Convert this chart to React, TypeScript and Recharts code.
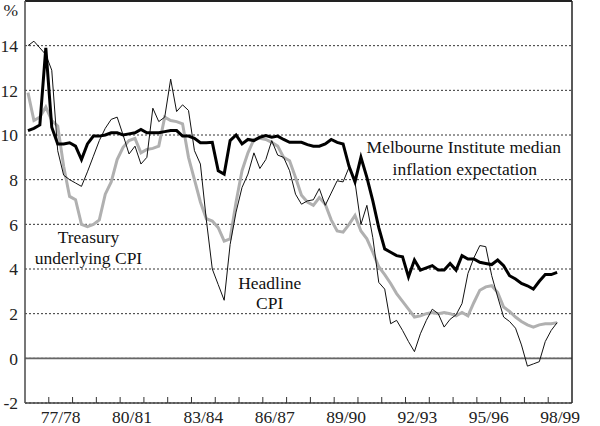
import { CartesianGrid, Line, LineChart, ReferenceDot, ReferenceLine, XAxis, YAxis } from 'recharts';

// quarterly, Sep-76 to Dec-98, year-ended % change
const headline = [
  14.0, 14.2, 13.9, 13.6, 12.9, 9.3, 8.2, 8.0, 7.85, 7.7,
  8.35, 9.05, 9.75, 10.3, 10.7, 10.8, 10.0, 9.15, 9.5, 8.7,
  9.0, 11.2, 10.6, 10.8, 12.5, 11.05, 11.35, 11.1, 9.3, 8.7,
  6.2, 4.0, 3.3, 2.6, 5.1, 6.55, 7.65, 8.25, 9.2, 8.5,
  8.9, 9.75, 9.1, 9.0, 8.4, 7.35, 6.9, 7.05, 7.1, 7.6,
  6.85, 7.4, 7.95, 7.9, 8.55, 7.9, 6.0, 6.85, 5.4, 3.4,
  3.1, 1.55, 1.7, 1.25, 0.75, 0.3, 1.1, 1.7, 2.2, 2.0,
  1.4, 1.75, 1.95, 2.45, 3.8, 4.5, 5.05, 5.0, 3.7, 2.75,
  1.85, 1.65, 1.35, 0.6, -0.35, -0.25, -0.15, 0.75, 1.25, 1.6,
];
const treasury = [
  11.9, 10.65, 10.8, 11.25, 10.65, 10.4, 8.6, 7.25, 7.1, 6.0,
  5.9, 6.0, 6.2, 7.35, 7.9, 8.9, 9.45, 9.75, 9.85, 9.2,
  9.35, 9.4, 9.5, 10.8, 10.65, 10.6, 10.5, 9.0, 8.0, 7.0,
  6.25, 6.15, 5.85, 5.25, 5.35, 7.0, 8.4, 9.2, 9.8, 9.85,
  9.8, 9.67, 9.5, 9.0, 8.85, 8.1, 7.3, 7.0, 6.85, 7.2,
  6.9, 6.2, 5.7, 5.65, 6.0, 6.4, 5.7, 5.35, 4.75, 4.1,
  3.75, 3.35, 2.9, 2.55, 2.2, 1.85, 1.9, 2.0, 2.05, 2.0,
  2.05, 2.0, 1.9, 2.05, 1.9, 2.5, 3.05, 3.2, 3.25, 2.95,
  2.3, 2.1, 1.85, 1.65, 1.5, 1.4, 1.5, 1.55, 1.55, 1.6,
];
const melbourne = [
  10.2, 10.3, 10.45, 13.9, 10.35, 9.6, 9.6, 9.65, 9.5, 8.9,
  9.6, 9.95, 9.95, 10.0, 10.1, 10.1, 10.0, 10.05, 10.1, 10.25,
  10.1, 10.1, 10.1, 10.15, 10.2, 10.2, 9.95, 9.95, 9.85, 9.65,
  9.65, 9.67, 8.4, 8.25, 9.75, 10.0, 9.6, 9.8, 9.75, 9.9,
  9.97, 9.9, 9.95, 9.8, 9.67, 9.67, 9.67, 9.57, 9.5, 9.5,
  9.6, 9.8, 9.67, 9.6, 8.6, 7.9, 9.0, 8.1, 7.05, 5.85,
  4.9, 4.75, 4.6, 4.55, 3.65, 4.4, 3.95, 4.05, 4.15, 3.95,
  3.95, 4.25, 3.95, 4.6, 4.45, 4.45, 4.3, 4.25, 4.2, 4.4,
  4.15, 3.7, 3.55, 3.35, 3.25, 3.1, 3.45, 3.75, 3.75, 3.85,
];

const fyLabels = ['77/78', '80/81', '83/84', '86/87', '89/90', '92/93', '95/96', '98/99'];
const fyStarts = [
  1977.5, 1978.5, 1979.5, 1980.5, 1981.5, 1982.5, 1983.5, 1984.5, 1985.5, 1986.5, 1987.5,
  1988.5, 1989.5, 1990.5, 1991.5, 1992.5, 1993.5, 1994.5, 1995.5, 1996.5, 1997.5, 1998.5,
];
const yTicks = [-2, 0, 2, 4, 6, 8, 10, 12, 14, 16];

// mid-quarter positions in years
const quarters = headline.map((_, i) => 1976.625 + i * 0.25);
const rows = quarters.map((t, i) => ({
  t,
  headline: headline[i],
  treasury: treasury[i],
  melbourne: melbourne[i],
}));

// label centre = middle of the fiscal year (1 Jan)
const labelAt = new Map(fyLabels.map((l) => [1901 + Number(l.slice(0, 2)), l]));
const xTicks = [...fyStarts, ...labelAt.keys()].sort((a, b) => a - b);

const FONT = '"Liberation Serif", "Times New Roman", serif';

const XTick = ({ x, y, payload }: any) => {
  const label = labelAt.get(payload.value);
  if (label) {
    return (
      <text x={x} y={y + 14} dy="0.355em" textAnchor="middle" fontFamily={FONT} fontSize={17.5} fill="#222">
        {label}
      </text>
    );
  }
  return <line x1={x} x2={x} y1={y} y2={y - 6} stroke="#333" strokeWidth={1} />;
};

const YTick = ({ x, y, payload, textAnchor }: any) => (
  <text
    x={x}
    y={y + (payload.value === 16 ? 9 : 0)}
    dy="0.355em"
    textAnchor={textAnchor}
    fontFamily={FONT}
    fontSize={17.5}
    fill="#222"
  >
    {payload.value === 16 ? '%' : payload.value}
  </text>
);

const noteLabel = (value: string) => ({
  value,
  position: 'center' as const,
  fontFamily: FONT,
  fontSize: 17.5,
  fill: '#111',
});

export default function App() {
  return (
    <div style={{ position: 'absolute', left: 0, top: 0, width: 600, height: 426, background: '#fff' }}>
      <LineChart width={600} height={426} data={rows} margin={{ top: 1, right: 0, bottom: 0, left: 0 }}>
        <CartesianGrid yAxisId="left" vertical={false} stroke="#333" strokeDasharray="2 2" />
        <XAxis
          dataKey="t"
          type="number"
          domain={[1976.5, 1999.5]}
          ticks={xTicks}
          interval={0}
          height={23}
          tickSize={0}
          tickMargin={0}
          tickLine={false}
          tick={<XTick />}
          axisLine={{ stroke: '#444', strokeWidth: 1.6 }}
        />
        <YAxis
          yAxisId="left"
          domain={[-2, 16]}
          ticks={yTicks}
          interval={0}
          width={25}
          tickSize={0}
          tickMargin={7}
          tickLine={false}
          tick={<YTick />}
          axisLine={{ stroke: '#555', strokeWidth: 1.6 }}
        />
        <YAxis
          yAxisId="right"
          orientation="right"
          domain={[-2, 16]}
          ticks={yTicks}
          interval={0}
          width={28}
          tickSize={0}
          tickMargin={11}
          tickLine={false}
          tick={<YTick />}
          axisLine={{ stroke: '#222', strokeWidth: 1.5 }}
        />
        <ReferenceLine yAxisId="left" y={0} stroke="#666" strokeWidth={1.6} />
        <ReferenceLine yAxisId="left" y={16} stroke="#222" strokeWidth={2} />
        <Line
          yAxisId="left"
          type="linear"
          dataKey="treasury"
          stroke="#b0b0b0"
          strokeWidth={3}
          dot={false}
          activeDot={false}
          isAnimationActive={false}
        />
        <Line
          yAxisId="left"
          type="linear"
          dataKey="headline"
          stroke="#111"
          strokeWidth={1}
          dot={false}
          activeDot={false}
          isAnimationActive={false}
        />
        <Line
          yAxisId="left"
          type="linear"
          dataKey="melbourne"
          stroke="#000"
          strokeWidth={3}
          dot={false}
          activeDot={false}
          isAnimationActive={false}
        />
        <ReferenceDot yAxisId="left" x={1979.17} y={5.44} r={1} fill="none" stroke="none" label={noteLabel('Treasury')} />
        <ReferenceDot yAxisId="left" x={1979.17} y={4.5} r={1} fill="none" stroke="none" label={noteLabel('underlying CPI')} />
        <ReferenceDot yAxisId="left" x={1986.79} y={3.39} r={1} fill="none" stroke="none" label={noteLabel('Headline')} />
        <ReferenceDot yAxisId="left" x={1986.79} y={2.49} r={1} fill="none" stroke="none" label={noteLabel('CPI')} />
        <ReferenceDot yAxisId="left" x={1994.95} y={9.49} r={1} fill="none" stroke="none" label={noteLabel('Melbourne Institute median')} />
        <ReferenceDot yAxisId="left" x={1994.99} y={8.5} r={1} fill="none" stroke="none" label={noteLabel('inflation expectation')} />
      </LineChart>
    </div>
  );
}
